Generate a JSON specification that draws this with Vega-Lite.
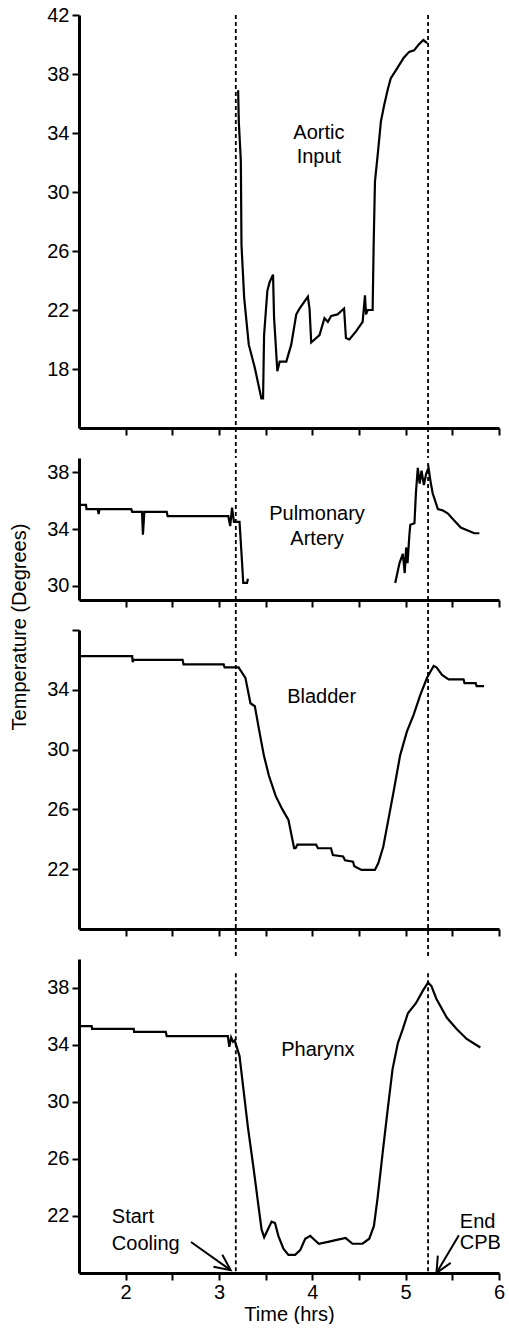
{
  "$schema": "https://vega.github.io/schema/vega-lite/v6.json",
  "padding": {"left": 9, "top": 5, "right": 0, "bottom": 0},
  "background": "white",
  "bounds": "flush",
  "spacing": 30,
  "config": {
    "view": {"stroke": null},
    "font": "Liberation Sans",
    "axis": {
      "grid": false,
      "domainColor": "black",
      "domainWidth": 3,
      "tickColor": "black",
      "tickWidth": 2,
      "tickSize": 7,
      "labelColor": "black",
      "labelFont": "Liberation Sans",
      "labelFontSize": 20,
      "labelPadding": 3,
      "titleColor": "black",
      "titleFont": "Liberation Sans",
      "titleFontSize": 20,
      "titleFontWeight": "normal"
    }
  },
  "datasets": {
    "aortic": [
      {"t": 3.205, "v": 36.9}, {"t": 3.212, "v": 34.8}, {"t": 3.234, "v": 32.1}, {"t": 3.241, "v": 26.4},
      {"t": 3.27, "v": 22.8}, {"t": 3.319, "v": 19.65}, {"t": 3.383, "v": 18.1}, {"t": 3.454, "v": 16.0},
      {"t": 3.472, "v": 16.0}, {"t": 3.483, "v": 20.3}, {"t": 3.518, "v": 23.3}, {"t": 3.543, "v": 23.9},
      {"t": 3.579, "v": 24.4}, {"t": 3.59, "v": 21.5}, {"t": 3.625, "v": 17.85}, {"t": 3.65, "v": 18.5},
      {"t": 3.721, "v": 18.5}, {"t": 3.774, "v": 19.65}, {"t": 3.828, "v": 21.7}, {"t": 3.863, "v": 22.1},
      {"t": 3.952, "v": 22.9}, {"t": 3.97, "v": 22.1}, {"t": 3.988, "v": 19.8}, {"t": 4.077, "v": 20.3},
      {"t": 4.13, "v": 21.45}, {"t": 4.166, "v": 21.2}, {"t": 4.202, "v": 21.6}, {"t": 4.27, "v": 21.7},
      {"t": 4.34, "v": 22.1}, {"t": 4.36, "v": 20.1}, {"t": 4.397, "v": 20.0}, {"t": 4.468, "v": 20.55},
      {"t": 4.539, "v": 21.2}, {"t": 4.564, "v": 23.0}, {"t": 4.575, "v": 21.7}, {"t": 4.593, "v": 22.0},
      {"t": 4.646, "v": 22.0}, {"t": 4.657, "v": 26.4}, {"t": 4.671, "v": 30.7}, {"t": 4.7, "v": 32.5},
      {"t": 4.735, "v": 34.8}, {"t": 4.77, "v": 35.9}, {"t": 4.81, "v": 37.0}, {"t": 4.84, "v": 37.7},
      {"t": 4.91, "v": 38.4}, {"t": 4.98, "v": 39.1}, {"t": 5.037, "v": 39.5}, {"t": 5.09, "v": 39.6},
      {"t": 5.14, "v": 40.0}, {"t": 5.19, "v": 40.3}, {"t": 5.23, "v": 40.1}
    ],
    "pulmonary": [
      {"seg": "a", "t": 1.505, "v": 35.7}, {"seg": "a", "t": 1.575, "v": 35.7}, {"seg": "a", "t": 1.58, "v": 35.4},
      {"seg": "a", "t": 1.7, "v": 35.4}, {"seg": "a", "t": 1.71, "v": 35.05}, {"seg": "a", "t": 1.72, "v": 35.4},
      {"seg": "a", "t": 2.06, "v": 35.4}, {"seg": "a", "t": 2.07, "v": 35.2}, {"seg": "a", "t": 2.175, "v": 35.2},
      {"seg": "a", "t": 2.185, "v": 33.6}, {"seg": "a", "t": 2.2, "v": 35.2}, {"seg": "a", "t": 2.44, "v": 35.2},
      {"seg": "a", "t": 2.45, "v": 34.9}, {"seg": "a", "t": 3.1, "v": 34.9}, {"seg": "a", "t": 3.12, "v": 34.2},
      {"seg": "a", "t": 3.14, "v": 35.5}, {"seg": "a", "t": 3.16, "v": 34.5}, {"seg": "a", "t": 3.22, "v": 34.5},
      {"seg": "a", "t": 3.24, "v": 32.4}, {"seg": "a", "t": 3.26, "v": 30.2}, {"seg": "a", "t": 3.3, "v": 30.2},
      {"seg": "a", "t": 3.31, "v": 30.5},
      {"seg": "b", "t": 4.888, "v": 30.2}, {"seg": "b", "t": 4.934, "v": 31.6}, {"seg": "b", "t": 4.97, "v": 32.25},
      {"seg": "b", "t": 4.99, "v": 30.9}, {"seg": "b", "t": 5.005, "v": 32.7}, {"seg": "b", "t": 5.02, "v": 31.6},
      {"seg": "b", "t": 5.04, "v": 33.6}, {"seg": "b", "t": 5.05, "v": 34.3}, {"seg": "b", "t": 5.094, "v": 34.4},
      {"seg": "b", "t": 5.11, "v": 36.55}, {"seg": "b", "t": 5.13, "v": 38.3}, {"seg": "b", "t": 5.15, "v": 37.2},
      {"seg": "b", "t": 5.17, "v": 38.1}, {"seg": "b", "t": 5.195, "v": 37.1}, {"seg": "b", "t": 5.22, "v": 37.9},
      {"seg": "b", "t": 5.245, "v": 38.3}, {"seg": "b", "t": 5.27, "v": 37.2}, {"seg": "b", "t": 5.29, "v": 36.5},
      {"seg": "b", "t": 5.345, "v": 35.4}, {"seg": "b", "t": 5.4, "v": 35.3}, {"seg": "b", "t": 5.45, "v": 35.1},
      {"seg": "b", "t": 5.52, "v": 34.6}, {"seg": "b", "t": 5.59, "v": 34.1}, {"seg": "b", "t": 5.665, "v": 33.9},
      {"seg": "b", "t": 5.735, "v": 33.7}, {"seg": "b", "t": 5.79, "v": 33.7}
    ],
    "bladder": [
      {"t": 1.5, "v": 36.25}, {"t": 2.07, "v": 36.25}, {"t": 2.075, "v": 35.85}, {"t": 2.085, "v": 36.0},
      {"t": 2.61, "v": 36.0}, {"t": 2.62, "v": 35.7}, {"t": 3.05, "v": 35.7}, {"t": 3.06, "v": 35.5},
      {"t": 3.21, "v": 35.5}, {"t": 3.283, "v": 34.8}, {"t": 3.337, "v": 33.1}, {"t": 3.384, "v": 32.9},
      {"t": 3.427, "v": 31.4}, {"t": 3.481, "v": 29.6}, {"t": 3.535, "v": 28.25}, {"t": 3.607, "v": 26.9},
      {"t": 3.679, "v": 26.0}, {"t": 3.744, "v": 25.3}, {"t": 3.805, "v": 23.4}, {"t": 3.82, "v": 23.4},
      {"t": 3.84, "v": 23.65}, {"t": 4.04, "v": 23.65}, {"t": 4.06, "v": 23.4}, {"t": 4.2, "v": 23.4},
      {"t": 4.22, "v": 22.95}, {"t": 4.33, "v": 22.85}, {"t": 4.35, "v": 22.6}, {"t": 4.436, "v": 22.5},
      {"t": 4.45, "v": 22.2}, {"t": 4.527, "v": 21.95}, {"t": 4.67, "v": 21.95}, {"t": 4.706, "v": 22.4},
      {"t": 4.76, "v": 23.5}, {"t": 4.814, "v": 25.3}, {"t": 4.868, "v": 27.1}, {"t": 4.94, "v": 29.6},
      {"t": 5.013, "v": 31.2}, {"t": 5.084, "v": 32.3}, {"t": 5.157, "v": 33.66}, {"t": 5.229, "v": 34.8},
      {"t": 5.3, "v": 35.6}, {"t": 5.33, "v": 35.5}, {"t": 5.39, "v": 35.0}, {"t": 5.46, "v": 34.7},
      {"t": 5.62, "v": 34.7}, {"t": 5.63, "v": 34.45}, {"t": 5.75, "v": 34.45}, {"t": 5.76, "v": 34.25},
      {"t": 5.84, "v": 34.25}
    ],
    "pharynx": [
      {"t": 1.5, "v": 35.3}, {"t": 1.636, "v": 35.3}, {"t": 1.64, "v": 35.1}, {"t": 2.086, "v": 35.1},
      {"t": 2.09, "v": 34.9}, {"t": 2.43, "v": 34.9}, {"t": 2.44, "v": 34.6}, {"t": 3.095, "v": 34.6},
      {"t": 3.11, "v": 33.85}, {"t": 3.13, "v": 34.5}, {"t": 3.15, "v": 34.2}, {"t": 3.168, "v": 34.3},
      {"t": 3.22, "v": 33.2}, {"t": 3.257, "v": 31.15}, {"t": 3.31, "v": 28.2}, {"t": 3.366, "v": 25.55},
      {"t": 3.42, "v": 22.85}, {"t": 3.456, "v": 21.05}, {"t": 3.484, "v": 20.5}, {"t": 3.52, "v": 21.0},
      {"t": 3.564, "v": 21.6}, {"t": 3.6, "v": 21.5}, {"t": 3.636, "v": 20.6}, {"t": 3.69, "v": 19.7},
      {"t": 3.744, "v": 19.27}, {"t": 3.816, "v": 19.27}, {"t": 3.87, "v": 19.6}, {"t": 3.924, "v": 20.4},
      {"t": 3.978, "v": 20.6}, {"t": 4.01, "v": 20.4}, {"t": 4.07, "v": 20.05}, {"t": 4.18, "v": 20.2},
      {"t": 4.25, "v": 20.3}, {"t": 4.357, "v": 20.45}, {"t": 4.43, "v": 20.05}, {"t": 4.537, "v": 20.05},
      {"t": 4.61, "v": 20.4}, {"t": 4.66, "v": 21.3}, {"t": 4.7, "v": 23.3}, {"t": 4.754, "v": 26.45},
      {"t": 4.81, "v": 29.6}, {"t": 4.86, "v": 32.3}, {"t": 4.916, "v": 34.1}, {"t": 4.97, "v": 35.1},
      {"t": 5.024, "v": 36.2}, {"t": 5.11, "v": 36.9}, {"t": 5.186, "v": 37.8}, {"t": 5.24, "v": 38.35},
      {"t": 5.276, "v": 38.1}, {"t": 5.33, "v": 37.2}, {"t": 5.44, "v": 35.9}, {"t": 5.546, "v": 35.1},
      {"t": 5.654, "v": 34.4}, {"t": 5.8, "v": 33.8}
    ],
    "events": [
      {"event": "Start Cooling", "t": 3.18},
      {"event": "End CPB", "t": 5.24}
    ],
    "labels": [
      {"panel": "aortic", "label": "Aortic", "t": 4.07, "v": 33.6},
      {"panel": "aortic", "label": "Input", "t": 4.07, "v": 31.95},
      {"panel": "pulmonary", "label": "Pulmonary", "t": 4.05, "v": 34.6},
      {"panel": "pulmonary", "label": "Artery", "t": 4.05, "v": 32.9},
      {"panel": "bladder", "label": "Bladder", "t": 4.1, "v": 33.1},
      {"panel": "pharynx", "label": "Pharynx", "t": 4.06, "v": 33.17}
    ],
    "notes": [
      {"label": "Start", "t": 1.852, "v": 21.5},
      {"label": "Cooling", "t": 1.852, "v": 19.6},
      {"label": "End", "t": 5.58, "v": 21.18},
      {"label": "CPB", "t": 5.58, "v": 19.65}
    ],
    "arrows": [
      {"name": "start", "t1": 2.7, "v1": 20.17, "t2": 3.124, "v2": 18.2},
      {"name": "end", "t1": 5.57, "v1": 20.64, "t2": 5.33, "v2": 18.0}
    ]
  },
  "vconcat": [
    {
      "width": 420,
      "height": 413,
      "layer": [
        {
          "data": {"name": "aortic"},
          "mark": {"type": "line", "color": "black", "strokeWidth": 2.2},
          "encoding": {
            "x": {"field": "t", "type": "quantitative", "scale": {"domain": [1.5, 6]},
                  "axis": {"values": [2, 2.5, 3, 3.5, 4, 4.5, 5, 5.5, 6], "labels": false, "title": null}},
            "y": {"field": "v", "type": "quantitative", "scale": {"domain": [14, 42]},
                  "axis": {"values": [18, 22, 26, 30, 34, 38, 42], "title": null}}
          }
        },
        {
          "data": {"name": "events"},
          "mark": {"type": "rule", "color": "black", "strokeWidth": 1.8, "strokeDash": [4, 3]},
          "encoding": {
            "x": {"field": "t", "type": "quantitative"},
            "y": {"datum": 42},
            "y2": {"datum": 11.97}
          }
        },
        {
          "data": {"name": "labels"},
          "transform": [{"filter": "datum.panel == 'aortic'"}],
          "mark": {"type": "text", "font": "Liberation Sans", "fontSize": 20, "color": "black", "align": "center", "baseline": "alphabetic"},
          "encoding": {
            "x": {"field": "t", "type": "quantitative"},
            "y": {"field": "v", "type": "quantitative"},
            "text": {"field": "label"}
          }
        }
      ]
    },
    {
      "width": 420,
      "height": 142,
      "layer": [
        {
          "data": {"name": "pulmonary"},
          "mark": {"type": "line", "color": "black", "strokeWidth": 2.2},
          "encoding": {
            "x": {"field": "t", "type": "quantitative", "scale": {"domain": [1.5, 6]},
                  "axis": {"values": [2, 2.5, 3, 3.5, 4, 4.5, 5, 5.5, 6], "labels": false, "title": null}},
            "y": {"field": "v", "type": "quantitative", "scale": {"domain": [29, 38.65]},
                  "axis": {"values": [30, 34, 38], "title": "Temperature (Degrees)",
                           "titleX": -60, "titleY": 168.5, "titleAngle": -90,
                           "titleAlign": "center", "titleBaseline": "middle"}},
            "detail": {"field": "seg"}
          }
        },
        {
          "data": {"name": "events"},
          "mark": {"type": "rule", "color": "black", "strokeWidth": 1.8, "strokeDash": [4, 3]},
          "encoding": {
            "x": {"field": "t", "type": "quantitative"},
            "y": {"datum": 38.65},
            "y2": {"datum": 26.96}
          }
        },
        {
          "data": {"name": "labels"},
          "transform": [{"filter": "datum.panel == 'pulmonary'"}],
          "mark": {"type": "text", "font": "Liberation Sans", "fontSize": 20, "color": "black", "align": "center", "baseline": "alphabetic"},
          "encoding": {
            "x": {"field": "t", "type": "quantitative"},
            "y": {"field": "v", "type": "quantitative"},
            "text": {"field": "label"}
          }
        }
      ]
    },
    {
      "width": 420,
      "height": 299,
      "layer": [
        {
          "data": {"name": "bladder"},
          "mark": {"type": "line", "color": "black", "strokeWidth": 2.2},
          "encoding": {
            "x": {"field": "t", "type": "quantitative", "scale": {"domain": [1.5, 6]},
                  "axis": {"values": [2, 2.5, 3, 3.5, 4, 4.5, 5, 5.5, 6], "labels": false, "title": null}},
            "y": {"field": "v", "type": "quantitative", "scale": {"domain": [18, 38]},
                  "axis": {"values": [22, 26, 30, 34, 38], "title": null,
                           "labelExpr": "datum.value == 38 ? '' : datum.label"}}
          }
        },
        {
          "data": {"name": "events"},
          "mark": {"type": "rule", "color": "black", "strokeWidth": 1.8, "strokeDash": [4, 3]},
          "encoding": {
            "x": {"field": "t", "type": "quantitative"},
            "y": {"datum": 38},
            "y2": {"datum": 16.0}
          }
        },
        {
          "data": {"name": "labels"},
          "transform": [{"filter": "datum.panel == 'bladder'"}],
          "mark": {"type": "text", "font": "Liberation Sans", "fontSize": 20, "color": "black", "align": "center", "baseline": "alphabetic"},
          "encoding": {
            "x": {"field": "t", "type": "quantitative"},
            "y": {"field": "v", "type": "quantitative"},
            "text": {"field": "label"}
          }
        }
      ]
    },
    {
      "width": 420,
      "height": 314,
      "layer": [
        {
          "data": {"name": "pharynx"},
          "mark": {"type": "line", "color": "black", "strokeWidth": 2.2},
          "encoding": {
            "x": {"field": "t", "type": "quantitative", "scale": {"domain": [1.5, 6]},
                  "axis": {"values": [2, 2.5, 3, 3.5, 4, 4.5, 5, 5.5, 6], "title": "Time (hrs)",
                           "labelExpr": "datum.value % 1 == 0 ? format(datum.value, 'd') : ''",
                           "labelFlush": false, "labelOverlap": false, "labelPadding": 2, "titlePadding": 2}},
            "y": {"field": "v", "type": "quantitative", "scale": {"domain": [18, 39]},
                  "axis": {"values": [22, 26, 30, 34, 38], "title": null}}
          }
        },
        {
          "data": {"name": "events"},
          "mark": {"type": "rule", "color": "black", "strokeWidth": 1.8, "strokeDash": [4, 3]},
          "encoding": {
            "x": {"field": "t", "type": "quantitative"},
            "y": {"datum": 39},
            "y2": {"datum": 18}
          }
        },
        {
          "data": {"name": "labels"},
          "transform": [{"filter": "datum.panel == 'pharynx'"}],
          "mark": {"type": "text", "font": "Liberation Sans", "fontSize": 20, "color": "black", "align": "center", "baseline": "alphabetic"},
          "encoding": {
            "x": {"field": "t", "type": "quantitative"},
            "y": {"field": "v", "type": "quantitative"},
            "text": {"field": "label"}
          }
        },
        {
          "data": {"name": "notes"},
          "mark": {"type": "text", "font": "Liberation Sans", "fontSize": 20, "color": "black", "align": "left", "baseline": "alphabetic"},
          "encoding": {
            "x": {"field": "t", "type": "quantitative"},
            "y": {"field": "v", "type": "quantitative"},
            "text": {"field": "label"}
          }
        },
        {
          "data": {"name": "arrows"},
          "mark": {"type": "rule", "color": "black", "strokeWidth": 2},
          "encoding": {
            "x": {"field": "t1", "type": "quantitative"},
            "y": {"field": "v1", "type": "quantitative"},
            "x2": {"field": "t2"},
            "y2": {"field": "v2"}
          }
        },
        {
          "data": {"name": "arrows"},
          "transform": [{"filter": "datum.name == 'start'"}],
          "mark": {"type": "point", "shape": "M-1,-0.47L0,0L-1,0.47", "filled": false, "size": 1000, "strokeWidth": 2, "color": "black", "opacity": 1, "angle": 36.7},
          "encoding": {
            "x": {"field": "t2", "type": "quantitative"},
            "y": {"field": "v2", "type": "quantitative"}
          }
        },
        {
          "data": {"name": "arrows"},
          "transform": [{"filter": "datum.name == 'end'"}],
          "mark": {"type": "point", "shape": "M-1,-0.47L0,0L-1,0.47", "filled": false, "size": 1000, "strokeWidth": 2, "color": "black", "opacity": 1, "angle": 119.6},
          "encoding": {
            "x": {"field": "t2", "type": "quantitative"},
            "y": {"field": "v2", "type": "quantitative"}
          }
        }
      ]
    }
  ]
}
